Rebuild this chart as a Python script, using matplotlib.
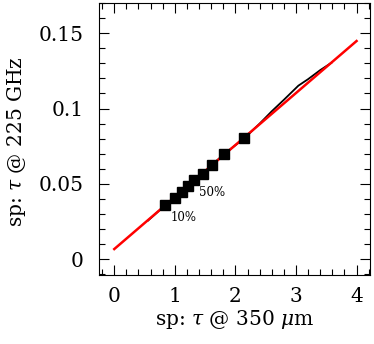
import numpy as np
import matplotlib.pyplot as plt
from matplotlib.ticker import MultipleLocator, FuncFormatter

plt.rcParams['font.family'] = 'DejaVu Serif'
plt.rcParams['mathtext.fontset'] = 'dejavuserif'

# fitted straight line (red)
fitX = [0.0, 4.0]
fitY = [0.0068, 0.1448]

# measured relation (black curve)
curveX = [0.56, 0.845, 1.0, 1.115, 1.22, 1.323, 1.46, 1.615, 1.81, 2.147, 2.4, 2.6, 2.8, 3.04, 3.2, 3.4, 3.59]
curveY = [0.0258, 0.036, 0.0408, 0.0448, 0.0488, 0.0525, 0.0569, 0.0627, 0.0697, 0.0803, 0.0900, 0.0982, 0.1058, 0.1152, 0.1195, 0.1255, 0.1305]

# percentile markers
pctX = [0.845, 1.0, 1.115, 1.22, 1.323, 1.46, 1.615, 1.81, 2.147]
pctY = [0.036, 0.0408, 0.0448, 0.0488, 0.0525, 0.0569, 0.0627, 0.0697, 0.0803]

labels = ["10%", "50%"]
labelX = [1.14, 1.62]
labelY = [0.0277, 0.0441]

fig = plt.figure(figsize=(3.74, 3.44), dpi=100)
ax = fig.add_axes([0.265, 0.2006, 0.724, 0.7906])

ax.plot(curveX, curveY, color='black', lw=1.3, zorder=2)
ax.plot(fitX, fitY, color='red', lw=1.8, zorder=3)
ax.plot(pctX, pctY, 's', color='black', ms=7, zorder=4)
for t, x, y in zip(labels, labelX, labelY):
    ax.text(x, y, t, fontsize=8.5, ha='center', va='center')

ax.set_xlim(-0.25, 4.22)
ax.set_ylim(-0.0104, 0.170)
ax.xaxis.set_major_locator(MultipleLocator(1))
ax.xaxis.set_minor_locator(MultipleLocator(0.2))
ax.yaxis.set_major_locator(MultipleLocator(0.05))
ax.yaxis.set_minor_locator(MultipleLocator(0.01))
ax.yaxis.set_major_formatter(FuncFormatter(lambda v, p: '%g' % round(v, 3)))
ax.tick_params(which='both', direction='in', top=True, right=True, labelsize=14.5)
ax.tick_params(which='major', length=7, width=0.8)
ax.tick_params(which='minor', length=4, width=0.8)
ax.tick_params(axis='x', which='major', pad=9)
ax.tick_params(axis='y', which='major', pad=11)

ax.set_xlabel(r'sp: $\tau$ @ 350 $\mu$m', fontsize=14.5)
ax.set_ylabel(r'sp: $\tau$ @ 225 GHz', fontsize=14.5)
ax.xaxis.set_label_coords(0.5, -0.122)
ax.yaxis.set_label_coords(-0.263, 0.49)

fig.savefig('out.png', dpi=100)
